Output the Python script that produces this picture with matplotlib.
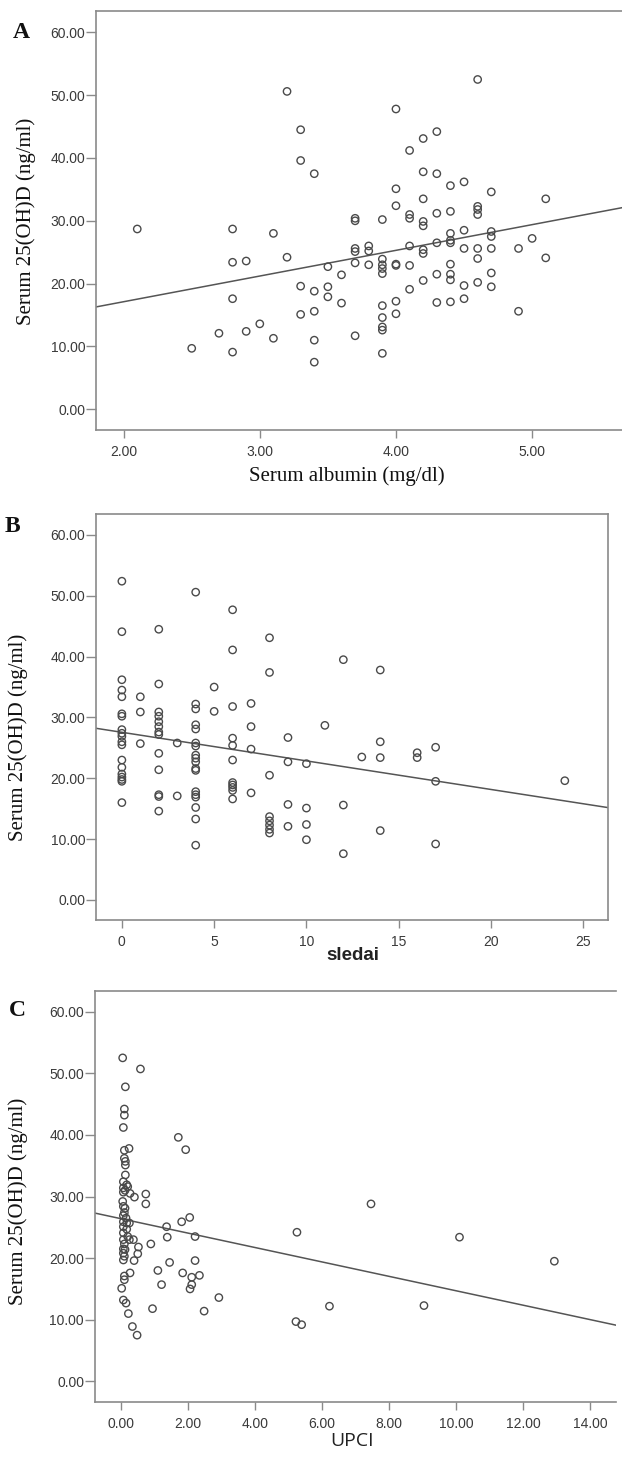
import matplotlib.pyplot as plt
import numpy as np

# Panel A: serum albumin (mg/dl) vs serum 25(OH)D (ng/ml)
albumin = [2.1, 2.5, 2.7,
           2.8, 2.8, 2.8, 2.8, 2.9, 2.9, 3.0, 3.1, 3.1, 3.2, 3.2,
           3.3, 3.3, 3.3, 3.3, 3.4, 3.4, 3.4, 3.4, 3.4, 3.5, 3.5, 3.5, 3.6, 3.6,
           3.7, 3.7, 3.7, 3.7, 3.7, 3.7, 3.8, 3.8, 3.8,
           3.9, 3.9, 3.9, 3.9, 3.9, 3.9, 3.9, 3.9, 3.9, 3.9,
           4.0, 4.0, 4.0, 4.0, 4.0, 4.0, 4.0,
           4.1, 4.1, 4.1, 4.1, 4.1, 4.1,
           4.2, 4.2, 4.2, 4.2, 4.2, 4.2, 4.2, 4.2,
           4.3, 4.3, 4.3, 4.3, 4.3, 4.3,
           4.4, 4.4, 4.4, 4.4, 4.4, 4.4, 4.4, 4.4, 4.4,
           4.5, 4.5, 4.5, 4.5, 4.5,
           4.6, 4.6, 4.6, 4.6, 4.6, 4.6, 4.6,
           4.7, 4.7, 4.7, 4.7, 4.7, 4.7,
           4.9, 4.9, 5.0, 5.1, 5.1]
vitd_a = [28.7, 9.7, 12.1,
          28.7, 23.4, 17.6, 9.1, 23.6, 12.4, 13.6, 28.0, 11.3, 50.6, 24.2,
          44.5, 39.6, 19.6, 15.1, 37.5, 18.8, 15.6, 11.0, 7.5, 22.7, 19.5, 17.9, 21.4, 16.9,
          30.4, 30.0, 25.6, 25.1, 23.3, 11.7, 26.0, 25.2, 23.0,
          30.2, 23.9, 23.0, 22.4, 21.6, 16.5, 14.6, 13.1, 12.6, 8.9,
          47.8, 35.1, 32.4, 23.1, 22.9, 17.2, 15.2,
          41.2, 31.0, 30.4, 26.0, 22.9, 19.1,
          43.1, 37.8, 33.5, 29.9, 29.2, 25.4, 24.8, 20.5,
          44.2, 37.5, 31.2, 26.5, 21.5, 17.0,
          35.6, 31.5, 28.0, 26.9, 26.5, 23.1, 21.5, 20.6, 17.1,
          36.2, 28.5, 25.6, 19.7, 17.6,
          52.5, 32.3, 31.8, 31.0, 25.6, 24.0, 20.2,
          34.6, 28.3, 27.5, 25.6, 21.7, 19.5,
          25.6, 15.6, 27.2, 33.5, 24.1]

# Panel B: SLEDAI score vs serum 25(OH)D
sledai = ([0] * 19 + [1] * 3 + [2] * 13 + [3] * 2 + [4] * 18 + [5] * 2 + [6] * 11
          + [7] * 4 + [8] * 8 + [9] * 4 + [10] * 4 + [11] + [12] * 3 + [13]
          + [14] * 4 + [16] * 2 + [17] * 3 + [24])
vitd_b = [52.4, 44.1, 36.2, 34.5, 33.4, 30.6, 30.2, 28.0, 27.4, 26.9, 26.0, 25.5,
          23.0, 21.8, 20.7, 20.2, 19.8, 19.5, 16.0,
          33.4, 30.9, 25.7,
          44.5, 35.5, 30.9, 30.2, 29.3, 28.5, 27.6, 27.2, 24.1, 21.4, 17.3, 17.0, 14.6,
          25.8, 17.1,
          50.6, 32.2, 31.4, 28.8, 28.1, 25.8, 25.3, 23.8, 23.3, 22.7, 21.6, 21.3,
          17.8, 17.3, 16.9, 15.2, 13.3, 9.0,
          35.0, 31.0,
          47.7, 41.1, 31.8, 26.6, 25.4, 23.0, 19.3, 18.9, 18.5, 18.0, 16.6,
          32.3, 28.5, 24.8, 17.6,
          43.1, 37.4, 20.5, 13.7, 13.0, 12.3, 11.6, 11.0,
          26.7, 22.7, 15.7, 12.1,
          22.4, 15.1, 12.4, 9.9,
          28.7,
          39.5, 15.6, 7.6,
          23.5,
          37.8, 26.0, 23.4, 11.4,
          24.2, 23.4,
          25.1, 19.5, 9.2,
          19.6]

# Panel C: UPCI vs serum 25(OH)D
upci = [0.05, 0.58, 0.13, 0.10, 0.10, 0.07, 1.71, 1.93, 0.24, 0.10, 0.10, 0.13, 0.13, 0.13,
        0.07, 0.17, 0.07, 0.12, 0.20, 0.07,
        0.74, 0.27, 0.40, 0.74, 0.05, 0.07, 0.12, 0.10,
        0.07, 0.15, 0.07, 0.17, 0.25, 0.07, 0.17, 0.07, 0.20, 0.07, 0.25, 0.37,
        0.10, 0.07, 0.12, 0.07, 0.10, 0.07,
        0.52, 0.50, 0.39, 0.89, 1.36, 1.38, 1.81, 2.05, 2.21, 2.21, 1.45, 1.10,
        1.84, 2.11, 2.34, 2.11, 2.06, 1.21, 0.27, 0.10, 0.10, 0.02, 0.07, 0.15,
        0.94, 2.92, 2.48, 0.22, 0.34, 0.48,
        7.46, 5.25, 10.10, 12.93, 5.22, 5.39, 6.22, 9.04]
vitd_c = [52.5, 50.7, 47.8, 44.2, 43.2, 41.2, 39.6, 37.6, 37.8, 37.5, 36.2, 35.7, 35.1, 33.5,
          32.4, 31.9, 31.4, 31.0, 31.6, 30.7,
          30.4, 30.5, 29.9, 28.8, 29.2, 28.4, 28.1, 27.4,
          26.9, 26.5, 25.9, 25.7, 25.7, 25.1, 24.7, 24.1, 23.5, 23.0, 23.0, 23.0,
          22.3, 21.5, 21.4, 20.8, 20.3, 19.7,
          21.8, 20.7, 19.6, 22.3, 25.1, 23.4, 25.9, 26.6, 23.5, 19.6, 19.3, 18.0,
          17.6, 16.9, 17.2, 15.7, 15.0, 15.7, 17.6, 17.1, 16.5, 15.1, 13.2, 12.7,
          11.8, 13.6, 11.4, 11.0, 8.9, 7.5,
          28.8, 24.2, 23.4, 19.5, 9.7, 9.2, 12.2, 12.3]

# fit lines as drawn in the figure (intercept, slope)
fit_a = (8.94, 4.09)
fit_b = (27.56, -0.47)
fit_c = (26.4, -1.17)

yticks = [0, 10, 20, 30, 40, 50, 60]

W, H = 622, 1458
fig = plt.figure(figsize=(W / 100, H / 100), dpi=100)

def box(l, r, t, b):
    return [l / W, 1 - b / H, (r - l) / W, (b - t) / H]

spine_col = '#8a8a8a'
mark_col = '#4a4a4a'
tick_font = dict(family='Liberation Sans', size=10, color='#3a3a3a')
serif = 'Liberation Serif'

panels = [
    (box(96.4, 622, 11, 430), albumin, vitd_a, fit_a, (1.80, 5.66), [2, 3, 4, 5], '{:.2f}', False),
    (box(96.4, 608, 514.3, 920), sledai, vitd_b, fit_b, (-1.38, 26.34), [0, 5, 10, 15, 20, 25], '{:d}', True),
    (box(95.2, 616, 990.7, 1401.7), upci, vitd_c, fit_c, (-0.77, 14.77), [0, 2, 4, 6, 8, 10, 12, 14], '{:.2f}', False),
]

for rect, xs, ys, fit, xlim, xt, fmt, right_spine in panels:
    ax = fig.add_axes(rect)
    ax.scatter(xs, ys, s=28, facecolors='none', edgecolors=mark_col, linewidths=1.0, zorder=3)
    ax.axline((0, fit[0]), slope=fit[1], color='#555555', lw=1.1, zorder=2)
    ax.set_xlim(*xlim)
    ax.set_ylim(-3.3, 63.4)
    ax.set_yticks(yticks)
    ax.set_yticklabels(['{:.2f}'.format(v) for v in yticks], fontdict=tick_font)
    ax.set_xticks(xt)
    ax.set_xticklabels([fmt.format(v) for v in xt], fontdict=tick_font)
    for side in ['left', 'bottom', 'top', 'right']:
        ax.spines[side].set_color(spine_col)
        ax.spines[side].set_linewidth(1.2)
    ax.spines['right'].set_visible(right_spine)
    ax.tick_params(axis='y', direction='out', length=7, width=1.0, color=spine_col, pad=1)
    ax.tick_params(axis='x', direction='out', length=6, width=1.0, color=spine_col, pad=5)

# y axis labels
for x, y in [(26, 221), (18, 737), (18, 1201)]:
    fig.text(x / W, 1 - y / H, 'Serum 25(OH)D (ng/ml)', rotation=90, ha='center', va='center',
             family=serif, fontsize=15, color='#111111')

# x axis labels
fig.text(347 / W, 1 - 476 / H, 'Serum albumin (mg/dl)', ha='center', va='center',
         family=serif, fontsize=15, color='#111111')
fig.text(353 / W, 1 - 956 / H, 'sledai', ha='center', va='center',
         family='Liberation Sans', fontweight='bold', fontsize=13.5, color='#222222')
fig.text(352 / W, 1 - 1441 / H, 'UPCI', ha='center', va='center',
         family='Open Sans', fontsize=14, color='#222222')

# panel letters
for letter, x, y in [('A', 21, 33), ('B', 12, 527), ('C', 17, 1011)]:
    fig.text(x / W, 1 - y / H, letter, ha='center', va='center',
             family=serif, fontweight='bold', fontsize=17, color='#111111')

fig.savefig('out.png', dpi=100)
